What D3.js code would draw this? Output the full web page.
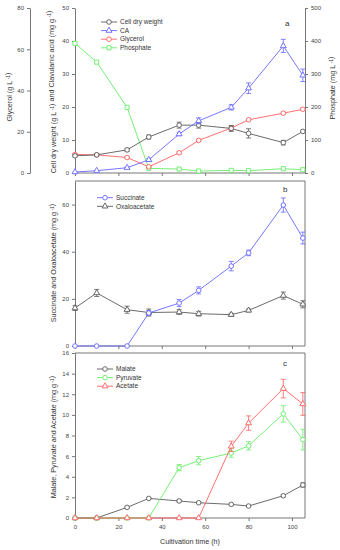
<!DOCTYPE html>
<html>
<head>
<meta charset="utf-8">
<script src="https://cdn.jsdelivr.net/npm/d3@7"></script>
<style>
  body { margin: 0; background: #fff; }
  svg { font-family: "Liberation Sans", Arial, sans-serif; }
  .axis path, .axis line { stroke: #777; }
  .axis text { fill: #444; font-size: 6px; }
</style>
</head>
<body>
<script>
// sampling times (h)
const times = [0, 10, 24, 34, 48, 57, 72, 80, 96, 105];

// panel a
const cellDryWeight = [5.2, 5.5, 7.0, 10.9, 14.5, 14.5, 13.5, 12.0, 9.2, 12.6];
const cellDryWeightErr = [0.3, 0.3, 0.5, 0.6, 0.9, 0.9, 0.9, 1.4, 0.7, 0.3];
const clavulanicAcid = [0.3, 0.7, 1.6, 4.0, 11.8, 15.8, 19.9, 25.7, 38.5, 29.6];
const clavulanicAcidErr = [0.1, 0.1, 0.2, 0.3, 0.5, 0.9, 0.8, 1.6, 2.0, 1.9];
const glycerol = [9.0, 8.8, 7.5, 3.0, 9.8, 15.8, 21.8, 25.8, 29.0, 30.9];
const glycerolErr = [0.5, 0.5, 0.5, 0.4, 0.5, 0.5, 1.0, 0.5, 0.5, 0.5];
const phosphate = [393, 336, 199, 14, 12, 6, 8, 7, 13, 10];

// panel b
const succinate = [0, 0, 0, 14.0, 18.2, 23.6, 33.9, 39.5, 59.8, 45.8];
const succinateErr = [0, 0, 0, 1.0, 1.5, 1.5, 2.0, 1.2, 3.0, 2.5];
const oxaloacetate = [16.1, 22.5, 15.4, 14.2, 14.4, 13.7, 13.3, 15.1, 21.4, 17.7];
const oxaloacetateErr = [1.0, 1.5, 1.5, 1.5, 1.0, 1.0, 0.6, 0.6, 1.5, 1.5];

// panel c
const malate = [0, 0, 1.03, 1.9, 1.65, 1.48, 1.32, 1.16, 2.16, 3.2];
const malateErr = [0, 0, 0.05, 0.08, 0.1, 0.08, 0.06, 0.06, 0.1, 0.2];
const pyruvate = [0, 0, 0, 0, 4.88, 5.56, 6.3, 7.0, 10.1, 7.6];
const pyruvateErr = [0, 0, 0, 0, 0.3, 0.4, 0.4, 0.4, 0.8, 1.0];
const acetate = [0, 0, 0, 0, 0, 0, 6.95, 9.2, 12.55, 11.06];
const acetateErr = [0, 0, 0, 0, 0, 0, 0.5, 0.7, 0.9, 1.1];

const C = { black: "#5a5a5a", blue: "#6666ff", red: "#ff6060", green: "#66ee66" };

const svg = d3.select("body").append("svg")
  .attr("width", 340).attr("height", 550);

const x = d3.scaleLinear().domain([0, 106]).range([75, 305]);

const panels = {
  a: { top: 8, bottom: 173 },
  b: { top: 181, bottom: 346 },
  c: { top: 353, bottom: 518 }
};

function yScale(p, max) {
  return d3.scaleLinear().domain([0, max]).range([panels[p].bottom, panels[p].top]);
}

function marker(g, shape, px, py, color) {
  if (shape === "circle") {
    g.append("circle").attr("cx", px).attr("cy", py).attr("r", 2.3)
      .attr("fill", "#fff").attr("stroke", color).attr("stroke-width", 0.9);
  } else {
    const sym = shape === "square" ? d3.symbolSquare : d3.symbolTriangle;
    const size = shape === "square" ? 17 : 15;
    g.append("path").attr("d", d3.symbol(sym, size)())
      .attr("transform", "translate(" + px + "," + py + ")")
      .attr("fill", "#fff").attr("stroke", color).attr("stroke-width", 0.9);
  }
}

function series(y, values, errs, color, shape) {
  const g = svg.append("g");
  const pts = times.map((t, i) => ({ t, v: values[i], e: errs ? errs[i] : 0 }));
  g.append("path")
    .attr("d", d3.line().x(d => x(d.t)).y(d => y(d.v))(pts))
    .attr("fill", "none").attr("stroke", color).attr("stroke-width", 0.9);
  pts.forEach(d => {
    if (d.e > 0.15 * (y.domain()[1] / 50)) {
      const cx = x(d.t), y1 = y(d.v + d.e), y2 = y(d.v - d.e);
      g.append("path")
        .attr("d", `M${cx},${y1}V${y2}M${cx - 2.5},${y1}H${cx + 2.5}M${cx - 2.5},${y2}H${cx + 2.5}`)
        .attr("stroke", color).attr("stroke-width", 0.8).attr("fill", "none");
    }
  });
  pts.forEach(d => marker(g, shape, x(d.t), y(d.v), color));
}

function xAxis(p, labels) {
  const ax = d3.axisBottom(x).tickValues([0, 20, 40, 60, 80, 100]).tickSize(3).tickPadding(4);
  if (!labels) ax.tickFormat("");
  svg.append("g").attr("class", "axis")
    .attr("transform", "translate(0," + panels[p].bottom + ")")
    .call(ax).call(g => g.select(".domain").remove());
  svg.append("line").attr("x1", 75).attr("x2", 305)
    .attr("y1", panels[p].bottom).attr("y2", panels[p].bottom).attr("stroke", "#777");
}

function yAxisLeft(xpos, y, ticks) {
  svg.append("g").attr("class", "axis")
    .attr("transform", "translate(" + xpos + ",0)")
    .call(d3.axisLeft(y).tickValues(ticks).tickSize(3).tickPadding(3).tickSizeOuter(0));
}

function title(px, py, parts, rotate) {
  const t = svg.append("text")
    .attr("transform", "translate(" + px + "," + py + ")" + (rotate ? " rotate(-90)" : ""))
    .attr("text-anchor", "middle").attr("fill", "#333").attr("font-size", 7.2);
  parts.forEach(s => {
    if (s === "-1") {
      t.append("tspan").attr("dy", -2.5).attr("font-size", 5).text(" -1");
      t.append("tspan").attr("dy", 2.5).text("");
    } else {
      t.append("tspan").text(s);
    }
  });
}

function legend(x0, y0, items, step) {
  items.forEach((it, i) => {
    const yy = y0 + i * step;
    svg.append("line").attr("x1", x0).attr("x2", x0 + 16).attr("y1", yy).attr("y2", yy)
      .attr("stroke", it.color).attr("stroke-width", 0.9);
    marker(svg, it.shape, x0 + 8, yy, it.color);
    svg.append("text").attr("x", x0 + 19).attr("y", yy + 2.2)
      .attr("font-size", 6.5).attr("fill", "#333").text(it.name);
  });
}

// ---- panel a ----
const yA = yScale("a", 50);
const yGly = yScale("a", 80);
const yPho = yScale("a", 500);

xAxis("a", false);
yAxisLeft(75, yA, [0, 10, 20, 30, 40, 50]);
yAxisLeft(30, yGly, [0, 20, 40, 60, 80]);
svg.append("g").attr("class", "axis")
  .attr("transform", "translate(305,0)")
  .call(d3.axisRight(yPho).tickValues([0, 100, 200, 300, 400, 500]).tickSize(3).tickPadding(3).tickSizeOuter(0));

series(yPho, phosphate, null, C.green, "square");
series(yGly, glycerol, glycerolErr, C.red, "circle");
series(yA, cellDryWeight, cellDryWeightErr, C.black, "circle");
series(yA, clavulanicAcid, clavulanicAcidErr, C.blue, "triangle");

title(12, 97, ["Glycerol (g L", "-1", ")"], true);
title(56, 92, ["Cell dry weight (g L", "-1", ") and Clavulanic acid (mg g", "-1", ")"], true);
title(335, 88, ["Phosphate (mg L", "-1", ")"], true);
svg.append("text").attr("x", 285).attr("y", 26).attr("font-size", 8).attr("fill", "#333").text("a");

legend(101, 22, [
  { name: "Cell dry weight", color: C.black, shape: "circle" },
  { name: "CA", color: C.blue, shape: "triangle" },
  { name: "Glycerol", color: C.red, shape: "circle" },
  { name: "Phosphate", color: C.green, shape: "square" }
], 8.6);

// ---- panel b ----
const yB = yScale("b", 70);
xAxis("b", false);
yAxisLeft(75, yB, [0, 20, 40, 60]);
svg.append("line").attr("x1", 75).attr("x2", 305).attr("y1", panels.b.top).attr("y2", panels.b.top).attr("stroke", "#777");
svg.append("line").attr("x1", 305).attr("x2", 305).attr("y1", panels.b.top).attr("y2", panels.b.bottom).attr("stroke", "#777");

series(yB, oxaloacetate, oxaloacetateErr, C.black, "triangle");
series(yB, succinate, succinateErr, C.blue, "circle");

title(56, 263, ["Succinate and Oxaloacetate (mg g", "-1", ")"], true);
svg.append("text").attr("x", 283).attr("y", 192).attr("font-size", 8).attr("fill", "#333").text("b");

legend(97, 197.7, [
  { name: "Succinate", color: C.blue, shape: "circle" },
  { name: "Oxaloacetate", color: C.black, shape: "triangle" }
], 8.6);

// ---- panel c ----
const yC = yScale("c", 16);
xAxis("c", true);
yAxisLeft(75, yC, [0, 2, 4, 6, 8, 10, 12, 14, 16]);
svg.append("line").attr("x1", 75).attr("x2", 305).attr("y1", panels.c.top).attr("y2", panels.c.top).attr("stroke", "#777");
svg.append("line").attr("x1", 305).attr("x2", 305).attr("y1", panels.c.top).attr("y2", panels.c.bottom).attr("stroke", "#777");

series(yC, malate, malateErr, C.black, "circle");
series(yC, pyruvate, pyruvateErr, C.green, "circle");
series(yC, acetate, acetateErr, C.red, "triangle");

title(56, 437, ["Malate, Pyruvate and Acetate (mg g", "-1", ")"], true);
svg.append("text").attr("x", 283).attr("y", 366).attr("font-size", 8).attr("fill", "#333").text("c");
title(190, 544, ["Cultivation time (h)"], false);

legend(97, 369, [
  { name: "Malate", color: C.black, shape: "circle" },
  { name: "Pyruvate", color: C.green, shape: "circle" },
  { name: "Acetate", color: C.red, shape: "triangle" }
], 8.6);
</script>
</body>
</html>
